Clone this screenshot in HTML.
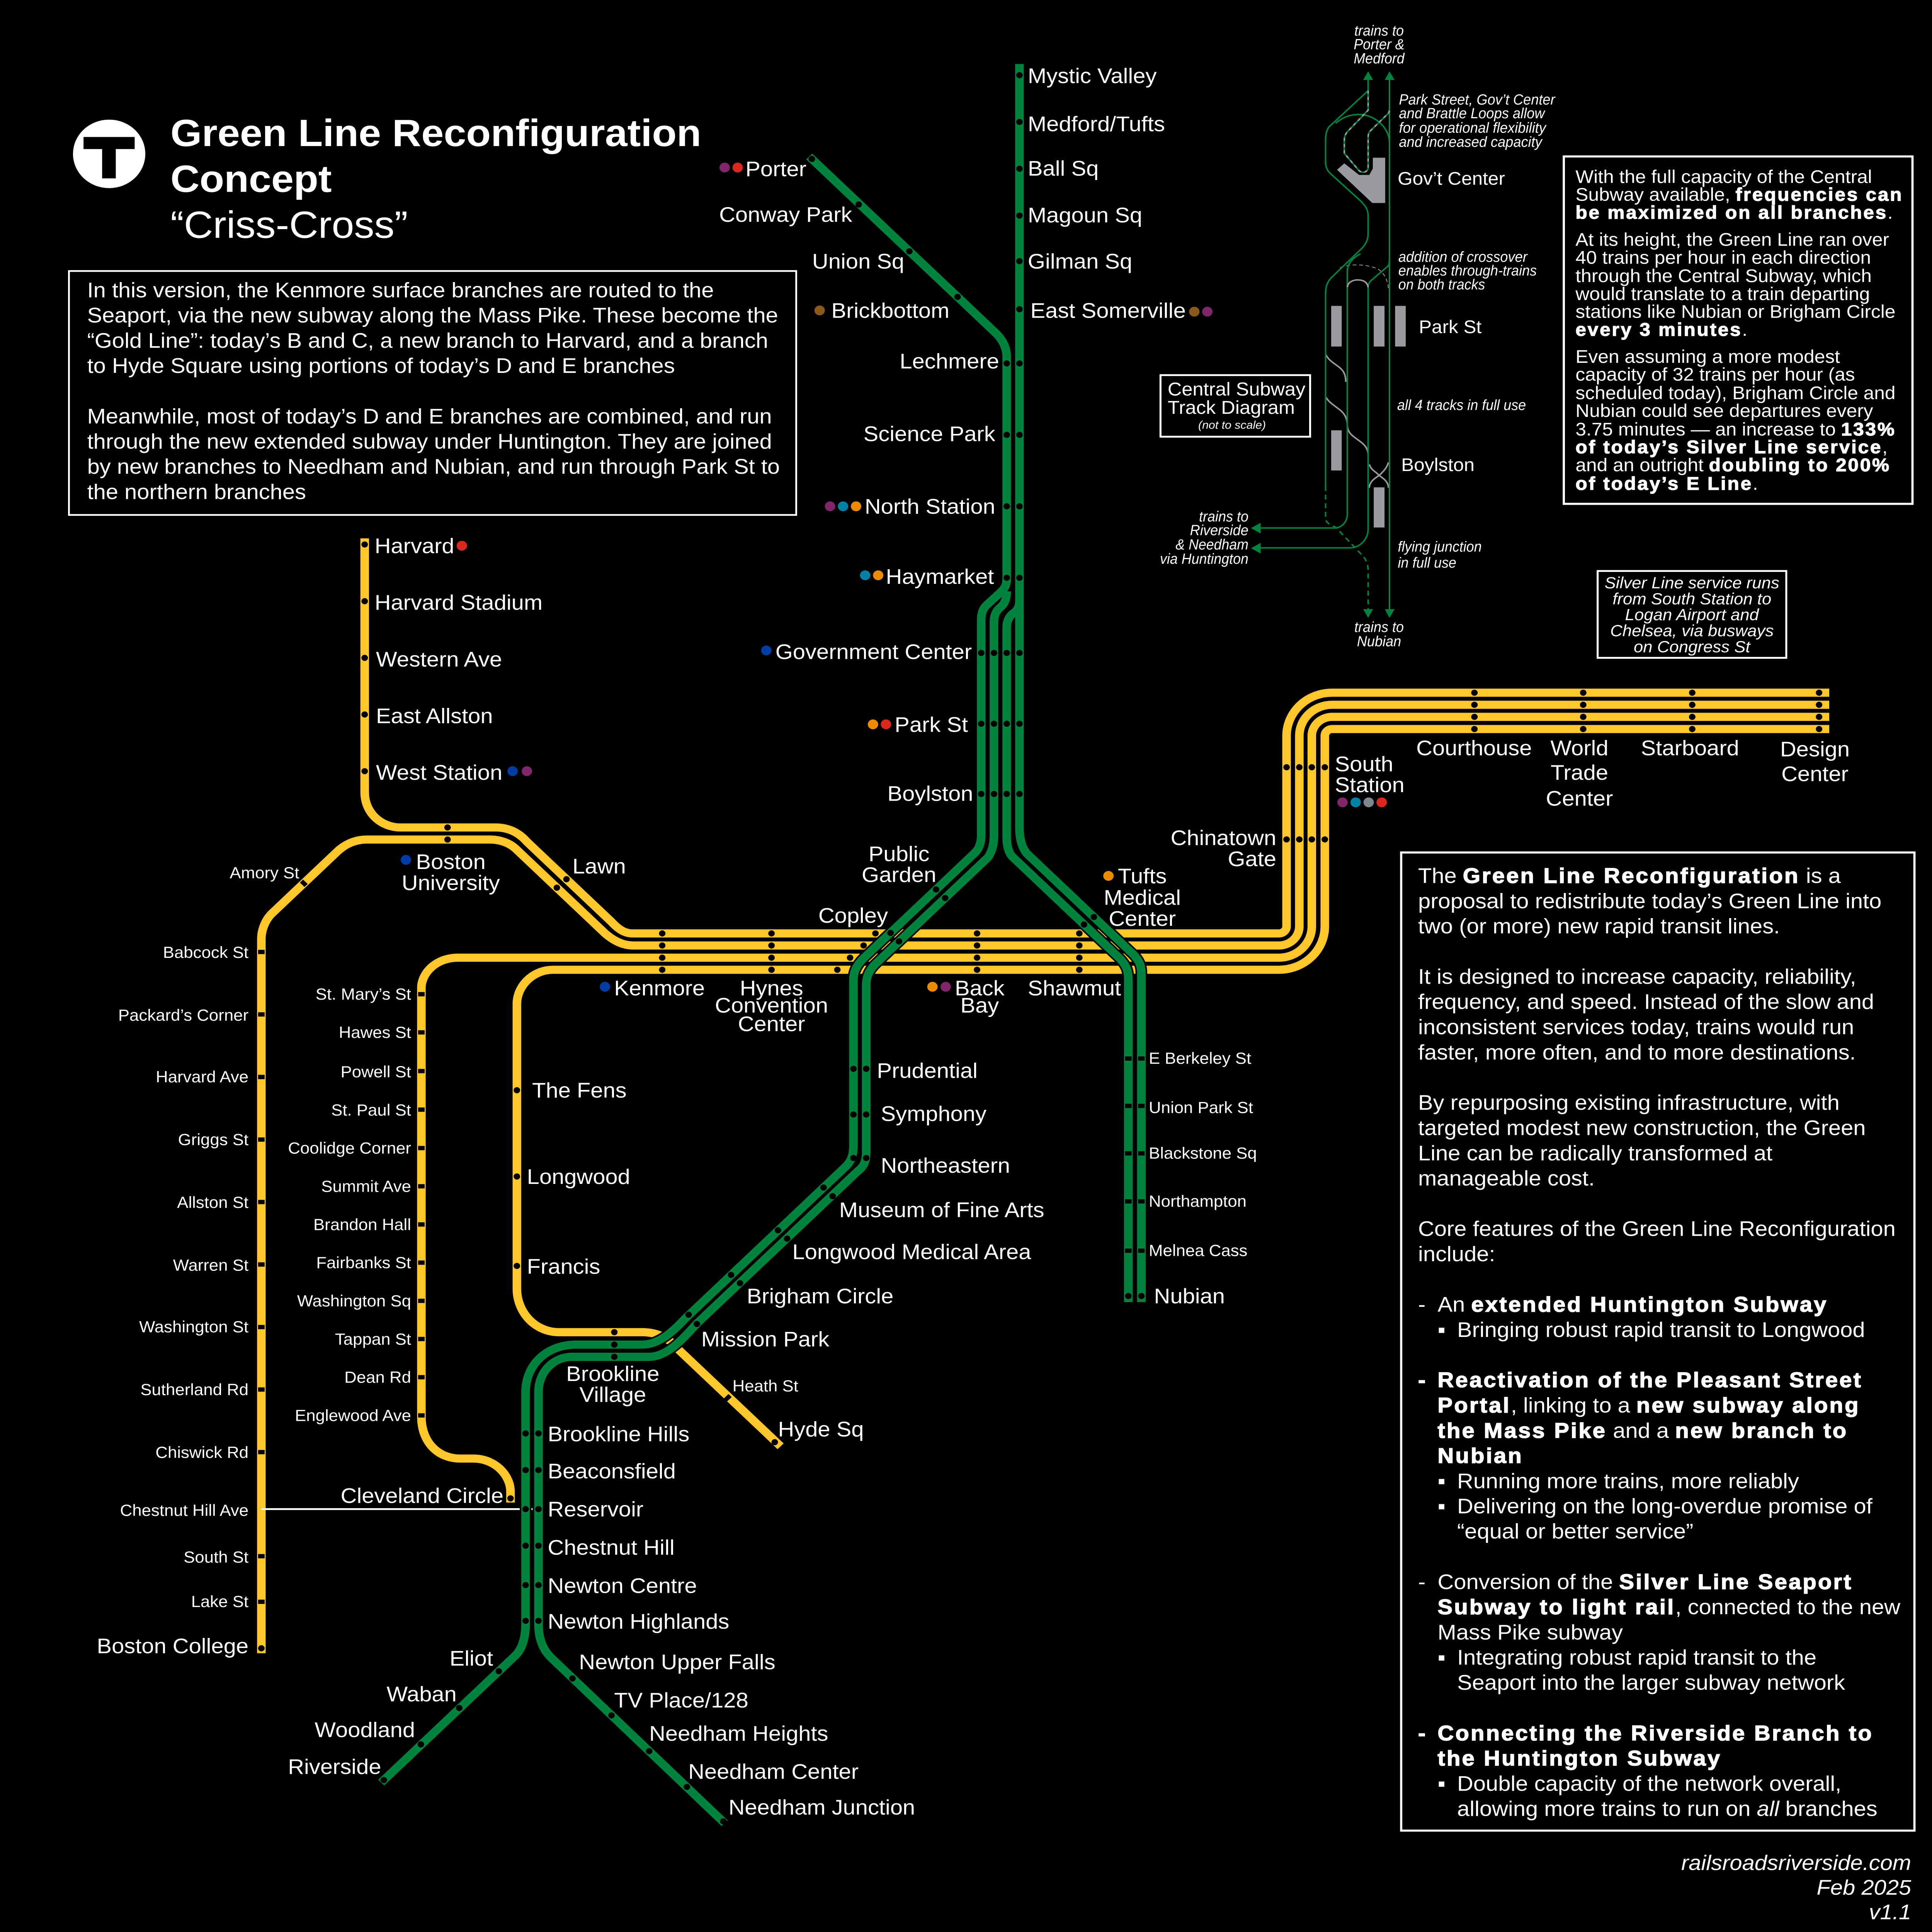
<!DOCTYPE html>
<html><head><meta charset="utf-8"><title>Green Line Reconfiguration Concept</title>
<style>
html,body{margin:0;padding:0;background:#000;width:100%;height:100%;overflow:hidden}
svg{position:fixed;left:0;top:0;width:100vw;height:100vh;display:block;overflow:hidden}
text{font-family:"Liberation Sans",Arial,sans-serif;fill:#fff}
.s{font-size:17.2px}.t{font-size:13px}.r{text-anchor:end}.m{text-anchor:middle}
.i{font-style:italic}.d{font-size:12px;font-style:italic}
.b{font-weight:bold;stroke:#fff;stroke-width:.55px;letter-spacing:1.25px}
.c{font-size:14.75px}
.c .b{letter-spacing:1.1px;stroke-width:.45px}
.y{fill:none;stroke:#FFC72C;stroke-width:6.6}
.gc{fill:none;stroke:#000;stroke-width:9}
.g{fill:none;stroke:#00843D;stroke-width:6.6}
.tg{fill:none;stroke:#00843D;stroke-width:1.2}
.tw{fill:none;stroke:#9a9b9f;stroke-width:1.2}
</style></head>
<body>
<svg xmlns="http://www.w3.org/2000/svg" viewBox="0 0 1485 1568.3" preserveAspectRatio="none">
<defs>
<path id="p1" d="M773.8,480 C773.8,487 771.5,491 768.9,493 C766,495.5 764,499 764,505 V678 C764,685 762.5,692 759,696.4 L672.4,783 C668.5,787.5 665.8,792 665.8,800 V935 C665.8,943 664,947 659,951 L536,1074 C527,1084 514,1101.4 499,1101.4 H440 C425,1101.4 413.9,1114 413.9,1130 V1318 C413.9,1330 417,1339 424,1346 L557,1480"/>
<path id="p2" d="M622,127 L765,270 C770.5,275.5 773.8,282 773.8,290 V470 C773.8,476 771,479 768.9,481 L758.3,491.2 C755.5,494 754.2,498 754.2,503 V678 C754.2,683 753,688 750,691.6 L664,777.6 C659,783 656,788 656,795 V930 C656,938 654,943 650,947 L527,1070 C518,1080 507,1091.5 493.6,1091.5 H442.9 C420,1091.5 404,1108 404,1130 V1318 C404,1330 401,1339 396,1344 L293,1447"/>
<path id="p3" d="M783.6,488 C783.6,493 781.5,496 778.7,498 C776,500 773.8,504 773.8,509 V680 C773.8,686 775,691.5 778,695.3 L861,778.3 C865,783 867.3,787 867.3,795 V1057"/>
<path id="p4" d="M783.6,52 V672 C783.6,680 785,687 789,692.6 L871,774.6 C875,779 877.3,783 877.3,790 V1057"/>
</defs>

<!-- logo/title -->
<circle cx="83.9" cy="124.9" r="27.8" fill="#fff"/>
<path d="M64.2,111.2 H103.5 V121 H89 V144.8 H78.5 V121 H64.2 Z" fill="#000"/>
<text x="131" y="118.5" font-size="31" font-weight="bold" textLength="408" lengthAdjust="spacingAndGlyphs">Green Line Reconfiguration</text>
<text x="131" y="155.8" font-size="31" font-weight="bold">Concept</text>
<text x="131" y="193" font-size="31">“Criss-Cross”</text>

<!-- left box -->
<rect x="53" y="220" width="559" height="198" fill="none" stroke="#fff" stroke-width="1.4"/>
<g class="s">
<text x="67" y="241.3" class="s">In this version, the Kenmore surface branches are routed to the</text>
<text x="67" y="261.8" class="s">Seaport, via the new subway along the Mass Pike. These become the</text>
<text x="67" y="282.3" class="s">“Gold Line”: today’s B and C, a new branch to Harvard, and a branch</text>
<text x="67" y="302.7" class="s">to Hyde Square using portions of today’s D and E branches</text>
<text x="67" y="343.7" class="s">Meanwhile, most of today’s D and E branches are combined, and run</text>
<text x="67" y="364.2" class="s">through the new extended subway under Huntington. They are joined</text>
<text x="67" y="384.6" class="s">by new branches to Needham and Nubian, and run through Park St to</text>
<text x="67" y="405.1" class="s">the northern branches</text>
</g>

<!-- yellow lines -->
<path class="y" d="M280.3,437 V643 C280.3,660 293,671.7 308,671.7 H381 C391,671.7 399,676 405,683.3 L470,748.3 C475,754 480,757.7 486,757.7 H983 A5.9,5.7 0 0 0 988.9,752 V597.3 A35,35 0 0 1 1024,562.3 H1406"/>
<path class="y" d="M200.9,1342 V762 C200.9,755 204,746 210,740.5 L260,690.5 C266,685 273,681.5 282,681.5 H376.7 C384,681.5 391,684 396,688.6 L465,757.6 C472,764 479,767.5 487,767.5 H983 A15.7,15.5 0 0 0 998.7,752 V597.3 A25.3,25.2 0 0 1 1024,572.1 H1406"/>
<path class="y" d="M392.4,1219.7 V1211 C392.4,1197 380,1184 364,1184 H354 C336,1184 323.9,1170 323.9,1150 V802 C323.9,790 335,777.4 352,777.4 H983 A25.3,25.4 0 0 0 1008.3,752 V597.3 A15.7,15.4 0 0 1 1024,581.9 H1406"/>
<path class="y" d="M600,1174 L520,1094 C514,1086 505,1081.4 493.6,1081.4 H429.7 C411,1081.4 397.3,1065 397.3,1046 V815 C397.3,800 410,787.2 425,787.2 H983 A35.3,35.2 0 0 0 1018.3,752 V597.3 A5.7,5.5 0 0 1 1024,591.8 H1406"/>
<line x1="200.9" y1="1225" x2="414" y2="1225" stroke="#fff" stroke-width="1.5"/>

<!-- green -->
<use href="#p1" class="gc"/><use href="#p2" class="gc"/><use href="#p3" class="gc"/><use href="#p4" class="gc"/>
<use href="#p1" class="g"/><use href="#p2" class="g"/><use href="#p3" class="g"/><use href="#p4" class="g"/>

<!-- stops: circles -->
<g fill="#000">
<circle cx="783.6" cy="61" r="2.5"/><circle cx="783.6" cy="99" r="2.5"/><circle cx="783.6" cy="137" r="2.5"/><circle cx="783.6" cy="175" r="2.5"/><circle cx="783.6" cy="212" r="2.5"/><circle cx="783.6" cy="251" r="2.5"/>
<circle cx="773.8" cy="295" r="2.5"/><circle cx="783.6" cy="295" r="2.5"/><circle cx="773.8" cy="353" r="2.5"/><circle cx="783.6" cy="353" r="2.5"/><circle cx="773.8" cy="411" r="2.5"/><circle cx="783.6" cy="411" r="2.5"/><circle cx="773.8" cy="469" r="2.5"/><circle cx="783.6" cy="469" r="2.5"/>
<circle cx="754.2" cy="530" r="2.5"/><circle cx="764" cy="530" r="2.5"/><circle cx="773.8" cy="530" r="2.5"/><circle cx="783.6" cy="530" r="2.5"/>
<circle cx="754.2" cy="587.5" r="2.5"/><circle cx="764" cy="587.5" r="2.5"/><circle cx="773.8" cy="587.5" r="2.5"/><circle cx="783.6" cy="587.5" r="2.5"/>
<circle cx="754.2" cy="644.5" r="2.5"/><circle cx="764" cy="644.5" r="2.5"/><circle cx="773.8" cy="644.5" r="2.5"/><circle cx="783.6" cy="644.5" r="2.5"/>
<circle cx="624" cy="129" r="2.5"/><circle cx="660" cy="166" r="2.5"/><circle cx="699" cy="204" r="2.5"/><circle cx="736" cy="241" r="2.5"/>
<circle cx="719.5" cy="722" r="2.5"/><circle cx="726.5" cy="729" r="2.5"/><circle cx="684.5" cy="757.3" r="2.5"/><circle cx="691" cy="764.2" r="2.5"/>
<circle cx="840.8" cy="744.4" r="2.5"/><circle cx="833.2" cy="750.5" r="2.5"/>
<circle cx="656" cy="867.6" r="2.5"/><circle cx="665.8" cy="867.6" r="2.5"/><circle cx="656" cy="904.7" r="2.5"/><circle cx="665.8" cy="904.7" r="2.5"/><circle cx="656" cy="940" r="2.5"/><circle cx="665.8" cy="940" r="2.5"/>
<circle cx="633" cy="964" r="2.5"/><circle cx="640" cy="971" r="2.5"/><circle cx="598" cy="998.7" r="2.5"/><circle cx="605" cy="1005.5" r="2.5"/>
<circle cx="561.9" cy="1034.9" r="2.5"/><circle cx="568.8" cy="1041.6" r="2.5"/><circle cx="529.3" cy="1067.2" r="2.5"/><circle cx="535.6" cy="1074.7" r="2.5"/>
<circle cx="472.2" cy="1081.4" r="2.5"/><circle cx="472.2" cy="1091.5" r="2.5"/><circle cx="472.2" cy="1101.4" r="2.5"/>
<circle cx="404" cy="1163.6" r="2.5"/><circle cx="413.9" cy="1163.6" r="2.5"/><circle cx="404" cy="1193.3" r="2.5"/><circle cx="413.9" cy="1193.3" r="2.5"/><circle cx="404" cy="1225" r="2.5"/><circle cx="413.9" cy="1225" r="2.5"/><circle cx="404" cy="1254.7" r="2.5"/><circle cx="413.9" cy="1254.7" r="2.5"/><circle cx="404" cy="1286.7" r="2.5"/><circle cx="413.9" cy="1286.7" r="2.5"/><circle cx="404" cy="1315.7" r="2.5"/><circle cx="413.9" cy="1315.7" r="2.5"/>
<circle cx="383.4" cy="1356.6" r="2.5"/><circle cx="353" cy="1386.5" r="2.5"/><circle cx="323.5" cy="1416" r="2.5"/><circle cx="295" cy="1445" r="2.5"/>
<circle cx="440" cy="1362.5" r="2.5"/><circle cx="470" cy="1392.5" r="2.5"/><circle cx="499" cy="1421.5" r="2.5"/><circle cx="528" cy="1450.5" r="2.5"/><circle cx="556" cy="1478.5" r="2.5"/>
<circle cx="877.3" cy="1052" r="2.5"/><circle cx="867.3" cy="1052" r="2.5"/>
<circle cx="280.3" cy="442" r="2.5"/><circle cx="280.3" cy="488" r="2.5"/><circle cx="280.3" cy="534" r="2.5"/><circle cx="280.3" cy="580" r="2.5"/><circle cx="280.3" cy="626" r="2.5"/>
<circle cx="344" cy="671.7" r="2.5"/><circle cx="344" cy="681.5" r="2.5"/><circle cx="435.4" cy="713.7" r="2.5"/><circle cx="428" cy="720.6" r="2.5"/>
<circle cx="509" cy="757.7" r="2.5"/><circle cx="509" cy="767.5" r="2.5"/><circle cx="509" cy="777.4" r="2.5"/><circle cx="509" cy="787.2" r="2.5"/>
<circle cx="593" cy="757.7" r="2.5"/><circle cx="593" cy="767.5" r="2.5"/><circle cx="593" cy="777.4" r="2.5"/><circle cx="593" cy="787.2" r="2.5"/>
<circle cx="672.9" cy="757.7" r="2.5"/><circle cx="663.8" cy="767.5" r="2.5"/><circle cx="653.4" cy="777.4" r="2.5"/><circle cx="643.6" cy="787.2" r="2.5"/>
<circle cx="751" cy="757.7" r="2.5"/><circle cx="751" cy="767.5" r="2.5"/><circle cx="751" cy="777.4" r="2.5"/><circle cx="751" cy="787.2" r="2.5"/>
<circle cx="829.6" cy="757.7" r="2.5"/><circle cx="829.6" cy="767.5" r="2.5"/><circle cx="829.6" cy="777.4" r="2.5"/><circle cx="829.6" cy="787.2" r="2.5"/>
<circle cx="988.9" cy="622.8" r="2.5"/><circle cx="998.7" cy="622.8" r="2.5"/><circle cx="1008.3" cy="622.8" r="2.5"/><circle cx="1018.3" cy="622.8" r="2.5"/>
<circle cx="988.9" cy="681.4" r="2.5"/><circle cx="998.7" cy="681.4" r="2.5"/><circle cx="1008.3" cy="681.4" r="2.5"/><circle cx="1018.3" cy="681.4" r="2.5"/>
<circle cx="1133.3" cy="562.3" r="2.5"/><circle cx="1133.3" cy="572.1" r="2.5"/><circle cx="1133.3" cy="581.9" r="2.5"/><circle cx="1133.3" cy="591.8" r="2.5"/>
<circle cx="1216.9" cy="562.3" r="2.5"/><circle cx="1216.9" cy="572.1" r="2.5"/><circle cx="1216.9" cy="581.9" r="2.5"/><circle cx="1216.9" cy="591.8" r="2.5"/>
<circle cx="1300.7" cy="562.3" r="2.5"/><circle cx="1300.7" cy="572.1" r="2.5"/><circle cx="1300.7" cy="581.9" r="2.5"/><circle cx="1300.7" cy="591.8" r="2.5"/>
<circle cx="1398.2" cy="562.3" r="2.5"/><circle cx="1398.2" cy="572.1" r="2.5"/><circle cx="1398.2" cy="581.9" r="2.5"/><circle cx="1398.2" cy="591.8" r="2.5"/>
<circle cx="397.3" cy="885" r="2.5"/><circle cx="397.3" cy="955" r="2.5"/><circle cx="397.3" cy="1027.6" r="2.5"/>
<circle cx="392.4" cy="1216.3" r="2.5"/><circle cx="595.5" cy="1170.7" r="2.5"/><circle cx="200.9" cy="1338" r="2.5"/>
<!-- squares -->
<path d="M198.4,771 h5 v3.5 h-5z M198.4,821.7 h5 v3.5 h-5z M198.4,872.5 h5 v3.5 h-5z M198.4,923.3 h5 v3.5 h-5z M198.4,974 h5 v3.5 h-5z M198.4,1024.7 h5 v3.5 h-5z M198.4,1075.5 h5 v3.5 h-5z M198.4,1126.2 h5 v3.5 h-5z M198.4,1177 h5 v3.5 h-5z M198.4,1261.5 h5 v3.5 h-5z M198.4,1298.5 h5 v3.5 h-5z"/>
<path d="M321.4,805.3 h5 v3.5 h-5z M321.4,836.3 h5 v3.5 h-5z M321.4,867.7 h5 v3.5 h-5z M321.4,899 h5 v3.5 h-5z M321.4,930.2 h5 v3.5 h-5z M321.4,961.2 h5 v3.5 h-5z M321.4,992.2 h5 v3.5 h-5z M321.4,1023.2 h5 v3.5 h-5z M321.4,1054.2 h5 v3.5 h-5z M321.4,1085.2 h5 v3.5 h-5z M321.4,1116.2 h5 v3.5 h-5z M321.4,1147.2 h5 v3.5 h-5z"/>
<path d="M864.8,857.5 h5 v3.5 h-5z M874.8,857.5 h5 v3.5 h-5z M864.8,896 h5 v3.5 h-5z M874.8,896 h5 v3.5 h-5z M864.8,934.5 h5 v3.5 h-5z M874.8,934.5 h5 v3.5 h-5z M864.8,973.5 h5 v3.5 h-5z M874.8,973.5 h5 v3.5 h-5z M864.8,1013.5 h5 v3.5 h-5z M874.8,1013.5 h5 v3.5 h-5z"/>
<rect x="-2.5" y="-1.75" width="5" height="3.5" transform="translate(233.5 717) rotate(45)"/>
<rect x="-2.5" y="-1.75" width="5" height="3.5" transform="translate(559.4 1134.6) rotate(-45)"/>
</g>

<!-- connection bullets -->
<g>
<circle cx="557" cy="136" r="4" fill="#80276C"/><circle cx="567" cy="136" r="4" fill="#DA291C"/>
<circle cx="630" cy="252" r="4" fill="#8B5A1B"/>
<circle cx="918" cy="253" r="4" fill="#8B5A1B"/><circle cx="928" cy="253" r="4" fill="#80276C"/>
<circle cx="638" cy="411" r="4" fill="#80276C"/><circle cx="648" cy="411" r="4" fill="#0081A8"/><circle cx="658" cy="411" r="4" fill="#ED8B00"/>
<circle cx="665" cy="467" r="4" fill="#0081A8"/><circle cx="675" cy="467" r="4" fill="#ED8B00"/>
<circle cx="589" cy="528" r="4" fill="#003DA5"/>
<circle cx="671" cy="588" r="4" fill="#ED8B00"/><circle cx="681" cy="588" r="4" fill="#DA291C"/>
<circle cx="355" cy="443" r="4" fill="#DA291C"/>
<circle cx="394" cy="626" r="4" fill="#003DA5"/><circle cx="405" cy="626" r="4" fill="#80276C"/>
<circle cx="312" cy="698" r="4" fill="#003DA5"/><circle cx="465" cy="801" r="4" fill="#003DA5"/>
<circle cx="716.7" cy="801" r="4" fill="#ED8B00"/><circle cx="726.9" cy="801" r="4" fill="#80276C"/>
<circle cx="852" cy="711" r="4" fill="#ED8B00"/>
<circle cx="1031.9" cy="651.3" r="4" fill="#80276C"/><circle cx="1042" cy="651.3" r="4" fill="#0081A8"/><circle cx="1052" cy="651.3" r="4" fill="#7C878E"/><circle cx="1062" cy="651.3" r="4" fill="#DA291C"/>
</g>

<!-- station labels: green north -->
<text class="s" x="790" y="67.5">Mystic Valley</text>
<text class="s" x="790" y="106.5">Medford/Tufts</text>
<text class="s" x="790" y="142.5">Ball Sq</text>
<text class="s" x="790" y="180.5">Magoun Sq</text>
<text class="s" x="790" y="218">Gilman Sq</text>
<text class="s" x="792" y="258">East Somerville</text>
<text class="s" x="573" y="143">Porter</text>
<text class="s r" x="655" y="180">Conway Park</text>
<text class="s r" x="695" y="218">Union Sq</text>
<text class="s" x="639" y="258">Brickbottom</text>
<text class="s r" x="768" y="299">Lechmere</text>
<text class="s r" x="765" y="358">Science Park</text>
<text class="s r" x="765" y="417">North Station</text>
<text class="s r" x="764" y="474">Haymarket</text>
<text class="s r" x="747" y="535">Government Center</text>
<text class="s r" x="744" y="594">Park St</text>
<text class="s r" x="748" y="650">Boylston</text>
<text class="s m" x="691" y="699">Public</text>
<text class="s m" x="691" y="716">Garden</text>
<text class="s" x="629" y="749">Copley</text>
<!-- gold west -->
<text class="s" x="288" y="449">Harvard</text>
<text class="s" x="288" y="495">Harvard Stadium</text>
<text class="s" x="289" y="541">Western Ave</text>
<text class="s" x="289" y="587">East Allston</text>
<text class="s" x="289" y="633">West Station</text>
<text class="s m" x="346.5" y="705.5">Boston</text>
<text class="s m" x="346.5" y="722.5">University</text>
<text class="s" x="440" y="709">Lawn</text>
<text class="t r" x="230" y="713">Amory St</text>
<g class="t">
<text class="t r" x="191" y="777.5">Babcock St</text>
<text class="t r" x="191" y="828.5">Packard’s Corner</text>
<text class="t r" x="191" y="878.5">Harvard Ave</text>
<text class="t r" x="191" y="929.5">Griggs St</text>
<text class="t r" x="191" y="980.5">Allston St</text>
<text class="t r" x="191" y="1031.5">Warren St</text>
<text class="t r" x="191" y="1081.5">Washington St</text>
<text class="t r" x="191" y="1132.5">Sutherland Rd</text>
<text class="t r" x="191" y="1183.5">Chiswick Rd</text>
<text class="t r" x="191" y="1230.5">Chestnut Hill Ave</text>
<text class="t r" x="191" y="1268.5">South St</text>
<text class="t r" x="191" y="1304.5">Lake St</text>
<text class="t r" x="316" y="811.5">St. Mary’s St</text>
<text class="t r" x="316" y="842.5">Hawes St</text>
<text class="t r" x="316" y="874.5">Powell St</text>
<text class="t r" x="316" y="905.5">St. Paul St</text>
<text class="t r" x="316" y="936.5">Coolidge Corner</text>
<text class="t r" x="316" y="967.5">Summit Ave</text>
<text class="t r" x="316" y="998.5">Brandon Hall</text>
<text class="t r" x="316" y="1029.5">Fairbanks St</text>
<text class="t r" x="316" y="1060.5">Washington Sq</text>
<text class="t r" x="316" y="1091.5">Tappan St</text>
<text class="t r" x="316" y="1122.5">Dean Rd</text>
<text class="t r" x="316" y="1153.5">Englewood Ave</text>
<text class="t" x="563" y="1129.5">Heath St</text>
<text class="t" x="883" y="863.5">E Berkeley St</text>
<text class="t" x="883" y="903.5">Union Park St</text>
<text class="t" x="883" y="940.5">Blackstone Sq</text>
<text class="t" x="883" y="979.5">Northampton</text>
<text class="t" x="883" y="1019.5">Melnea Cass</text>
</g>
<text class="s r" x="191" y="1342">Boston College</text>
<text class="s r" x="387" y="1220">Cleveland Circle</text>
<text class="s" x="472" y="808">Kenmore</text>
<text class="s m" x="593" y="808">Hynes</text>
<text class="s m" x="593" y="822">Convention</text>
<text class="s m" x="593" y="837">Center</text>
<text class="s m" x="753" y="808">Back</text>
<text class="s m" x="753" y="822">Bay</text>
<text class="s" x="790" y="808">Shawmut</text>
<text class="s m" x="878" y="717">Tufts</text>
<text class="s m" x="878" y="734.5">Medical</text>
<text class="s m" x="878" y="751.5">Center</text>
<text class="s r" x="981" y="686">Chinatown</text>
<text class="s r" x="981" y="703">Gate</text>
<text class="s" x="1026" y="626">South</text>
<text class="s" x="1026" y="643">Station</text>
<text class="s m" x="1133" y="613">Courthouse</text>
<text class="s m" x="1214" y="613">World</text>
<text class="s m" x="1214" y="633">Trade</text>
<text class="s m" x="1214" y="654">Center</text>
<text class="s m" x="1299" y="613">Starboard</text>
<text class="s m" x="1395" y="614">Design</text>
<text class="s m" x="1395" y="634">Center</text>
<text class="s" x="409" y="891">The Fens</text>
<text class="s" x="405" y="961">Longwood</text>
<text class="s" x="405" y="1034">Francis</text>
<text class="s" x="674" y="875">Prudential</text>
<text class="s" x="677" y="910">Symphony</text>
<text class="s" x="677" y="952">Northeastern</text>
<text class="s" x="645" y="988">Museum of Fine Arts</text>
<text class="s" x="609" y="1022">Longwood Medical Area</text>
<text class="s" x="574" y="1058">Brigham Circle</text>
<text class="s" x="539" y="1093">Mission Park</text>
<text class="s" x="598" y="1166">Hyde Sq</text>
<text class="s m" x="471" y="1121">Brookline</text>
<text class="s m" x="471" y="1138">Village</text>
<text class="s" x="421" y="1170">Brookline Hills</text>
<text class="s" x="421" y="1200">Beaconsfield</text>
<text class="s" x="421" y="1231">Reservoir</text>
<text class="s" x="421" y="1262">Chestnut Hill</text>
<text class="s" x="421" y="1293">Newton Centre</text>
<text class="s" x="421" y="1322">Newton Highlands</text>
<text class="s" x="445" y="1355">Newton Upper Falls</text>
<text class="s" x="472" y="1386">TV Place/128</text>
<text class="s" x="499" y="1413">Needham Heights</text>
<text class="s" x="529" y="1444">Needham Center</text>
<text class="s" x="560" y="1473">Needham Junction</text>
<text class="s r" x="379" y="1352">Eliot</text>
<text class="s r" x="351" y="1381">Waban</text>
<text class="s r" x="319" y="1410">Woodland</text>
<text class="s r" x="293" y="1440">Riverside</text>
<text class="s" x="887" y="1058">Nubian</text>

<!-- track diagram -->
<g>
<rect x="1023.2" y="248.3" width="8.1" height="33" fill="#9a9b9f"/>
<rect x="1055.9" y="248.3" width="8.3" height="33" fill="#9a9b9f"/>
<rect x="1072.3" y="248.3" width="8.2" height="33" fill="#9a9b9f"/>
<rect x="1023.2" y="349.3" width="8.1" height="32.6" fill="#9a9b9f"/>
<rect x="1055.9" y="395.6" width="8.3" height="32.6" fill="#9a9b9f"/>
<path d="M1027.7,137.8 L1033.3,132.6 L1044.6,142 H1052.5 L1055.2,136.8 V128 H1064.7 V164.8 H1054.8 Z" fill="#9a9b9f"/>
<path class="tw" d="M1018.9,287.6 C1021,292 1024,294 1028,297 C1032,300 1034.4,303 1034.4,310"/>
<path class="tw" d="M1019.3,322.6 C1021,326 1024,328 1029,332 C1033,335 1035.6,339 1035.6,345.4 C1036,352 1040,354 1045,358 C1049,361 1051.6,364 1051.6,370"/>
<path class="tw" d="M1052.5,377 C1054,382 1058,383 1060,386 C1063,388 1067.2,391 1067.2,396"/>
<path class="tw" d="M1067.2,375.3 C1066,380 1063,383 1060,386 C1057,388 1052.5,391 1052.5,396"/>
<path d="M1030,217.4 C1036,214 1052,214 1060,219 C1065,223 1067,229 1067.2,235" fill="none" stroke="#9a9b9f" stroke-width=".6" stroke-dasharray="3 2"/>
<path class="tg" d="M1068,64 V495"/>
<path class="tg" d="M1051.6,64.9 V73.6 L1022.1,102.4 C1020,104.5 1018.9,108 1018.9,114 V131.5 C1018.9,135 1020,138 1022,140.3 L1045.7,163 C1049.5,167 1051.6,170 1051.6,175.3 V189.4 C1051.6,195 1049.5,199 1045.7,202.7 L1024.3,224.4 C1020.5,228 1018.9,232 1018.9,238.5 V394.5"/>
<path d="M1018.9,394.5 V420.8 C1018.9,424 1022,426 1026.6,427.9 L1046.9,450.6 C1049.5,453 1051.6,458 1051.6,462.9 V494.5" fill="none" stroke="#00843D" stroke-width="1.2" stroke-dasharray="4 3"/>
<path class="tg" d="M1068,115.7 C1068,104 1057,93 1044.6,92.9 C1037,92.9 1031,96 1026.6,100"/>
<path d="M1051.6,73.6 V89.4 L1035.6,107 C1034,109 1033.3,111 1033.3,114 V124.5 L1044.6,138.5 C1046,140 1050,141 1051.6,136.8 V112.2 C1051.6,109 1052,107.5 1053.6,105.9 L1067.2,91.9 C1067.8,91 1068,89 1068,87.7" fill="none" stroke="#00843D" stroke-width="1.2"/>
<path d="M1051.6,73.6 V89.4 L1035.6,107 C1034,109 1033.3,111 1033.3,114 V124.5 L1044.6,138.5 C1046,140 1050,141 1051.6,136.8 V112.2 C1051.6,109 1052,107.5 1053.6,105.9 L1067.2,91.9 C1067.8,91 1068,89 1068,87.7" fill="none" stroke="#9a9b9f" stroke-width="1.2" stroke-dasharray="2.5 2.5"/>
<path class="tg" d="M1045.7,206 C1039,210 1035.6,214 1035.6,220.9 V417.3 C1035.6,424 1031,428.6 1026,428.6 H967"/>
<path class="tg" d="M1068,210.4 C1068,213 1067.5,215 1067.2,215.7 L1053.6,228 C1052,230 1051.6,231 1051.6,233.2 V429.6 C1051.6,438 1045,444.7 1037.8,444.7 H967"/>
<path d="M1035.6,233.2 C1036,229 1040,227.2 1043.5,227.2 C1048,227.2 1051,229 1051.6,233.2" fill="none" stroke="#9a9b9f" stroke-width="1.2"/>
<g fill="#00843D">
<path d="M1068,57.9 L1072,64.9 H1064.4 Z"/><path d="M1051.6,57.9 L1055.4,64.9 H1047.8 Z"/>
<path d="M1068,501.5 L1072,494.5 H1064.4 Z"/><path d="M1051.6,501.5 L1055.4,494.5 H1047.8 Z"/>
<path d="M961.6,428.7 L969,424.4 V433.1 Z"/><path d="M961.6,445 L969,440.7 V449.4 Z"/>
</g>
</g>
<text class="d m" x="1060" y="28.8" textLength="38" lengthAdjust="spacingAndGlyphs">trains to</text>
<text class="d m" x="1060" y="40" textLength="39" lengthAdjust="spacingAndGlyphs">Porter &amp;</text>
<text class="d m" x="1060" y="51.5" textLength="39" lengthAdjust="spacingAndGlyphs">Medford</text>
<text class="d" x="1075.3" y="84.9" textLength="120" lengthAdjust="spacingAndGlyphs">Park Street, Gov’t Center</text>
<text class="d" x="1075.3" y="96" textLength="112" lengthAdjust="spacingAndGlyphs">and Brattle Loops allow</text>
<text class="d" x="1075.3" y="107.7" textLength="113" lengthAdjust="spacingAndGlyphs">for operational flexibility</text>
<text class="d" x="1075.3" y="119.2" textLength="110" lengthAdjust="spacingAndGlyphs">and increased capacity</text>
<text x="1074.3" y="150" font-size="14.7">Gov’t Center</text>
<text class="d" x="1074.8" y="212.5" textLength="99.2" lengthAdjust="spacingAndGlyphs">addition of crossover</text>
<text class="d" x="1074.8" y="223.7" textLength="106.4" lengthAdjust="spacingAndGlyphs">enables through-trains</text>
<text class="d" x="1074.8" y="235" textLength="66.7" lengthAdjust="spacingAndGlyphs">on both tracks</text>
<text x="1090.6" y="270.4" font-size="14.7">Park St</text>
<text class="d" x="1073.9" y="332.8" textLength="99" lengthAdjust="spacingAndGlyphs">all 4 tracks in full use</text>
<text x="1077" y="382.3" font-size="14.7">Boylston</text>
<text class="d" x="1074.4" y="447.8" textLength="64.5" lengthAdjust="spacingAndGlyphs">flying junction</text>
<text class="d" x="1074.4" y="460.8" textLength="45" lengthAdjust="spacingAndGlyphs">in full use</text>
<text class="d m" x="1060" y="513" textLength="38" lengthAdjust="spacingAndGlyphs">trains to</text>
<text class="d m" x="1060" y="524.6" textLength="34" lengthAdjust="spacingAndGlyphs">Nubian</text>
<text class="d r" x="959.6" y="423.3" textLength="38" lengthAdjust="spacingAndGlyphs">trains to</text>
<text class="d r" x="959.6" y="434.5" textLength="45" lengthAdjust="spacingAndGlyphs">Riverside</text>
<text class="d r" x="959.6" y="446" textLength="56" lengthAdjust="spacingAndGlyphs">&amp; Needham</text>
<text class="d r" x="959.6" y="457.7" textLength="68" lengthAdjust="spacingAndGlyphs">via Huntington</text>
<rect x="892" y="304.5" width="115" height="50" fill="none" stroke="#fff" stroke-width="1.5"/>
<text x="897.5" y="321" font-size="15">Central Subway</text>
<text x="897.5" y="336" font-size="15">Track Diagram</text>
<text class="i m" x="947" y="348" font-size="9">(not to scale)</text>

<!-- upper right box -->
<rect x="1202" y="127" width="268" height="282" fill="none" stroke="#fff" stroke-width="1.7"/>
<g class="c">
<text class="c" x="1211" y="148.5">With the full capacity of the Central</text>
<text class="c" x="1211" y="163">Subway available, <tspan class="b">frequencies can</tspan></text>
<text class="c" x="1211" y="177.5"><tspan class="b">be maximized on all branches</tspan>.</text>
<text class="c" x="1211" y="199.5">At its height, the Green Line ran over</text>
<text class="c" x="1211" y="214">40 trains per hour in each direction</text>
<text class="c" x="1211" y="229">through the Central Subway, which</text>
<text class="c" x="1211" y="243.5">would translate to a train departing</text>
<text class="c" x="1211" y="258">stations like Nubian or Brigham Circle</text>
<text class="c" x="1211" y="272.5"><tspan class="b">every 3 minutes</tspan>.</text>
<text class="c" x="1211" y="294.5">Even assuming a more modest</text>
<text class="c" x="1211" y="309">capacity of 32 trains per hour (as</text>
<text class="c" x="1211" y="324">scheduled today), Brigham Circle and</text>
<text class="c" x="1211" y="338.5">Nubian could see departures every</text>
<text class="c" x="1211" y="353.5">3.75 minutes — an increase to <tspan class="b">133%</tspan></text>
<text class="c" x="1211" y="368"><tspan class="b">of today’s Silver Line service</tspan>,</text>
<text class="c" x="1211" y="382.5">and an outright <tspan class="b">doubling to 200%</tspan></text>
<text class="c" x="1211" y="397.5"><tspan class="b">of today’s E Line</tspan>.</text>
</g>

<!-- silver box -->
<rect x="1228" y="463.5" width="145" height="70.5" fill="none" stroke="#fff" stroke-width="1.5"/>
<text class="i m" font-size="13" x="1300.5" y="477.5">Silver Line service runs</text>
<text class="i m" font-size="13" x="1300.5" y="490.5">from South Station to</text>
<text class="i m" font-size="13" x="1300.5" y="503.5">Logan Airport and</text>
<text class="i m" font-size="13" x="1300.5" y="516.5">Chelsea, via busways</text>
<text class="i m" font-size="13" x="1300.5" y="529.5">on Congress St</text>

<!-- lower right box -->
<rect x="1077" y="692" width="394.5" height="794" fill="none" stroke="#fff" stroke-width="1.7"/>
<text class="s" x="1090" y="716.7">The <tspan class="b">Green Line Reconfiguration</tspan> is a</text>
<text class="s" x="1090" y="737.2">proposal to redistribute today’s Green Line into</text>
<text class="s" x="1090" y="757.6">two (or more) new rapid transit lines.</text>
<text class="s" x="1090" y="798.6">It is designed to increase capacity, reliability,</text>
<text class="s" x="1090" y="819">frequency, and speed. Instead of the slow and</text>
<text class="s" x="1090" y="839.5">inconsistent services today, trains would run</text>
<text class="s" x="1090" y="860">faster, more often, and to more destinations.</text>
<text class="s" x="1090" y="900.9">By repurposing existing infrastructure, with</text>
<text class="s" x="1090" y="921.4">targeted modest new construction, the Green</text>
<text class="s" x="1090" y="941.9">Line can be radically transformed at</text>
<text class="s" x="1090" y="962.3">manageable cost.</text>
<text class="s" x="1090" y="1003.3">Core features of the Green Line Reconfiguration</text>
<text class="s" x="1090" y="1023.8">include:</text>
<text class="s" x="1090" y="1064.7">-</text><text class="s" x="1105" y="1064.7">An <tspan class="b">extended Huntington Subway</tspan></text>
<text class="s" x="1105" y="1085.2">▪</text><text class="s" x="1120" y="1085.2">Bringing robust rapid transit to Longwood</text>
<text class="s b" x="1090" y="1126.1">-</text><text class="s" x="1105" y="1126.1"><tspan class="b">Reactivation of the Pleasant Street</tspan></text>
<text class="s" x="1105" y="1146.6"><tspan class="b">Portal</tspan>, linking to a <tspan class="b">new subway along</tspan></text>
<text class="s" x="1105" y="1167.1"><tspan class="b">the Mass Pike</tspan> and a <tspan class="b">new branch to</tspan></text>
<text class="s" x="1105" y="1187.5"><tspan class="b">Nubian</tspan></text>
<text class="s" x="1105" y="1208">▪</text><text class="s" x="1120" y="1208">Running more trains, more reliably</text>
<text class="s" x="1105" y="1228.5">▪</text><text class="s" x="1120" y="1228.5">Delivering on the long-overdue promise of</text>
<text class="s" x="1120" y="1248.9">“equal or better service”</text>
<text class="s" x="1090" y="1289.9">-</text><text class="s" x="1105" y="1289.9">Conversion of the <tspan class="b">Silver Line Seaport</tspan></text>
<text class="s" x="1105" y="1310.3"><tspan class="b">Subway to light rail</tspan>, connected to the new</text>
<text class="s" x="1105" y="1330.8">Mass Pike subway</text>
<text class="s" x="1105" y="1351.3">▪</text><text class="s" x="1120" y="1351.3">Integrating robust rapid transit to the</text>
<text class="s" x="1120" y="1371.7">Seaport into the larger subway network</text>
<text class="s b" x="1090" y="1412.7">-</text><text class="s" x="1105" y="1412.7"><tspan class="b">Connecting the Riverside Branch to</tspan></text>
<text class="s" x="1105" y="1433.1"><tspan class="b">the Huntington Subway</tspan></text>
<text class="s" x="1105" y="1453.6">▪</text><text class="s" x="1120" y="1453.6">Double capacity of the network overall,</text>
<text class="s" x="1120" y="1474">allowing more trains to run on <tspan font-style="italic">all</tspan> branches</text>

<!-- credit -->
<text class="s i r" x="1469" y="1518">railsroadsriverside.com</text>
<text class="s i r" x="1469" y="1538">Feb 2025</text>
<text class="s i r" x="1469" y="1558">v1.1</text>
</svg>
</body></html>
